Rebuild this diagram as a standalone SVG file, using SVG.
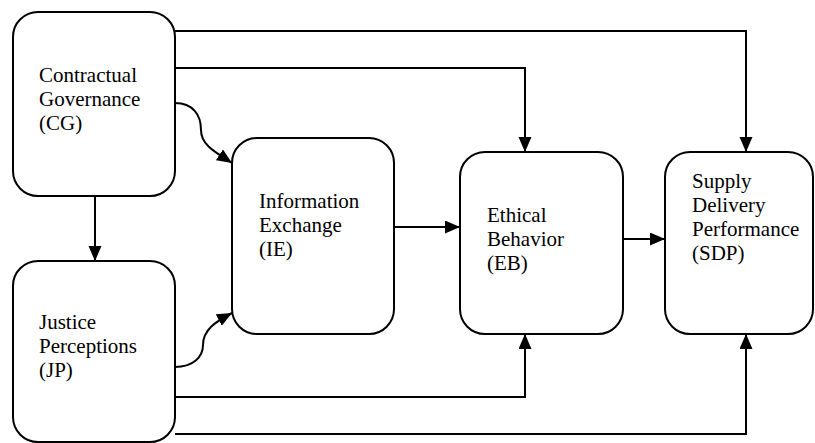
<svg xmlns="http://www.w3.org/2000/svg" width="815" height="443" viewBox="0 0 815 443">
<style>
.box{fill:#fff;stroke:#000;stroke-width:2}
text{font-family:'Liberation Serif','Times New Roman',Times,'DejaVu Serif',serif;font-size:21px;fill:#000}
.con{fill:none;stroke:#000;stroke-width:2}
</style>
<defs>
<marker id="ah" markerUnits="userSpaceOnUse" markerWidth="16" markerHeight="14" refX="15" refY="6.5" orient="auto">
<path d="M0,0 L15,6.5 L0,13 z" fill="#000"/>
</marker>
</defs>
<rect width="815" height="443" fill="#fff"/>
<g id="CG">
<rect class="box" x="13" y="12" width="162" height="184" rx="25"/>
<text font-family="Liberation Serif, serif"><tspan x="39" y="82">Contractual</tspan><tspan x="39" y="106">Governance</tspan><tspan x="39" y="130">(CG)</tspan></text>
</g>
<g id="JP">
<rect class="box" x="13" y="261" width="162" height="181" rx="25"/>
<text font-family="Liberation Serif, serif"><tspan x="39" y="329">Justice</tspan><tspan x="39" y="353">Perceptions</tspan><tspan x="39" y="377">(JP)</tspan></text>
</g>
<g id="IE">
<rect class="box" x="232" y="138" width="162" height="196" rx="25"/>
<text font-family="Liberation Serif, serif"><tspan x="259" y="208">Information</tspan><tspan x="259" y="232">Exchange</tspan><tspan x="259" y="256">(IE)</tspan></text>
</g>
<g id="EB">
<rect class="box" x="460" y="152" width="163" height="182" rx="25"/>
<text font-family="Liberation Serif, serif"><tspan x="487" y="222">Ethical</tspan><tspan x="487" y="246">Behavior</tspan><tspan x="487" y="270">(EB)</tspan></text>
</g>
<g id="SDP">
<rect class="box" x="665" y="152" width="148" height="182" rx="25"/>
<text font-family="Liberation Serif, serif"><tspan x="692" y="188">Supply</tspan><tspan x="692" y="212">Delivery</tspan><tspan x="692" y="236">Performance</tspan><tspan x="692" y="260">(SDP)</tspan></text>
</g>
<g id="connectors">
<path class="con" d="M95,196 L95,261" marker-end="url(#ah)"/>
<path class="con" d="M175,68 L525,68 L525,152" marker-end="url(#ah)"/>
<path class="con" d="M175,31 L746,31 L746,152" marker-end="url(#ah)"/>
<path class="con" d="M175,103 C193,103 201,115 201,130 C201,145 215,152 232,163" marker-end="url(#ah)"/>
<path class="con" d="M175,367 C193,367 203,357 203,345 C203,330 215,322 232,313" marker-end="url(#ah)"/>
<path class="con" d="M394,227 L460,227" marker-end="url(#ah)"/>
<path class="con" d="M623,239 L665,239" marker-end="url(#ah)"/>
<path class="con" d="M175,397 L525,397 L525,334" marker-end="url(#ah)"/>
<path class="con" d="M175,434 L746,434 L746,334" marker-end="url(#ah)"/>
</g>
</svg>
